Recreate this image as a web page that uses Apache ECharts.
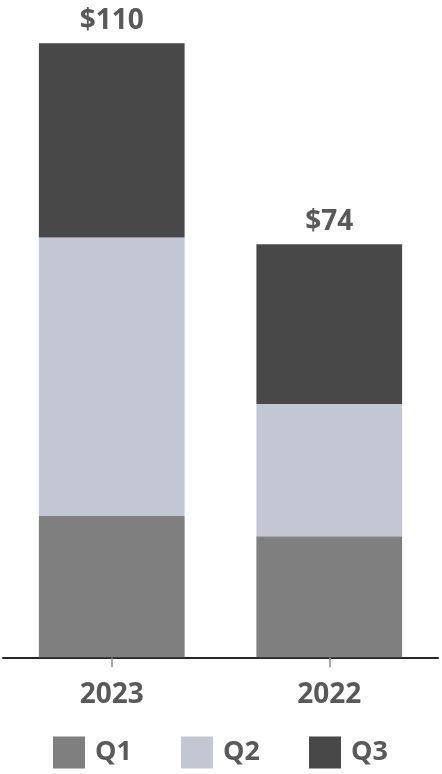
<!DOCTYPE html>
<html><head><meta charset="utf-8">
<script src="https://cdn.jsdelivr.net/npm/echarts@6/dist/echarts.min.js"></script>
<style>html,body{margin:0;padding:0;background:#fff}#c{width:442px;height:774px}</style>
</head><body><div id="c"></div>
<script>
const categories = ['2023', '2022'];
const q1 = [25.3, 21.7];
const q2 = [49.9, 23.7];
const q3 = [34.8, 28.6];
const seriesNames = ['Q1', 'Q2', 'Q3'];
const colors = ['#7f7f7f', '#c3c7d3', '#484848'];
const totals = categories.map((_, i) => Math.round(q1[i] + q2[i] + q3[i]));

const font = 'Open Sans';
const txt = '#595959';
const chart = echarts.init(document.getElementById('c'), null, {renderer: 'canvas'});
const legendPos = [53, 181, 309];
chart.setOption({
  animation: false,
  textStyle: {fontFamily: font},
  grid: {left: 3, right: 4, top: 43.3, bottom: 116.7, containLabel: false},
  legend: seriesNames.map((n, i) => ({
    data: [n], left: legendPos[i], top: 736.5, padding: 0, itemWidth: 32, itemHeight: 32,
    icon: 'rect', selectedMode: false,
    textStyle: {fontFamily: font, fontSize: 27, fontWeight: 'bold', color: txt, padding: [0, 0, 0, 5]}
  })),
  xAxis: {
    type: 'category', data: categories,
    axisLine: {lineStyle: {color: '#262626', width: 2}},
    axisTick: {show: true, alignWithLabel: true, length: 10, lineStyle: {color: '#8c8c8c', width: 1.5}},
    axisLabel: {fontFamily: font, fontSize: 28, fontWeight: 'bold', color: txt, margin: 24}
  },
  yAxis: {type: 'value', min: 0, max: 110, show: false, splitLine: {show: false}},
  series: [
    {name: 'Q1', type: 'bar', stack: 't', data: q1, barWidth: '67%', itemStyle: {color: colors[0]}},
    {name: 'Q2', type: 'bar', stack: 't', data: q2, itemStyle: {color: colors[1]}},
    {name: 'Q3', type: 'bar', stack: 't', data: q3, itemStyle: {color: colors[2]},
     label: {show: true, position: 'top', distance: 8, fontFamily: font, fontSize: 28, fontWeight: 'bold', color: txt,
       formatter: p => '$' + totals[p.dataIndex]}}
  ]
});
</script></body></html>
